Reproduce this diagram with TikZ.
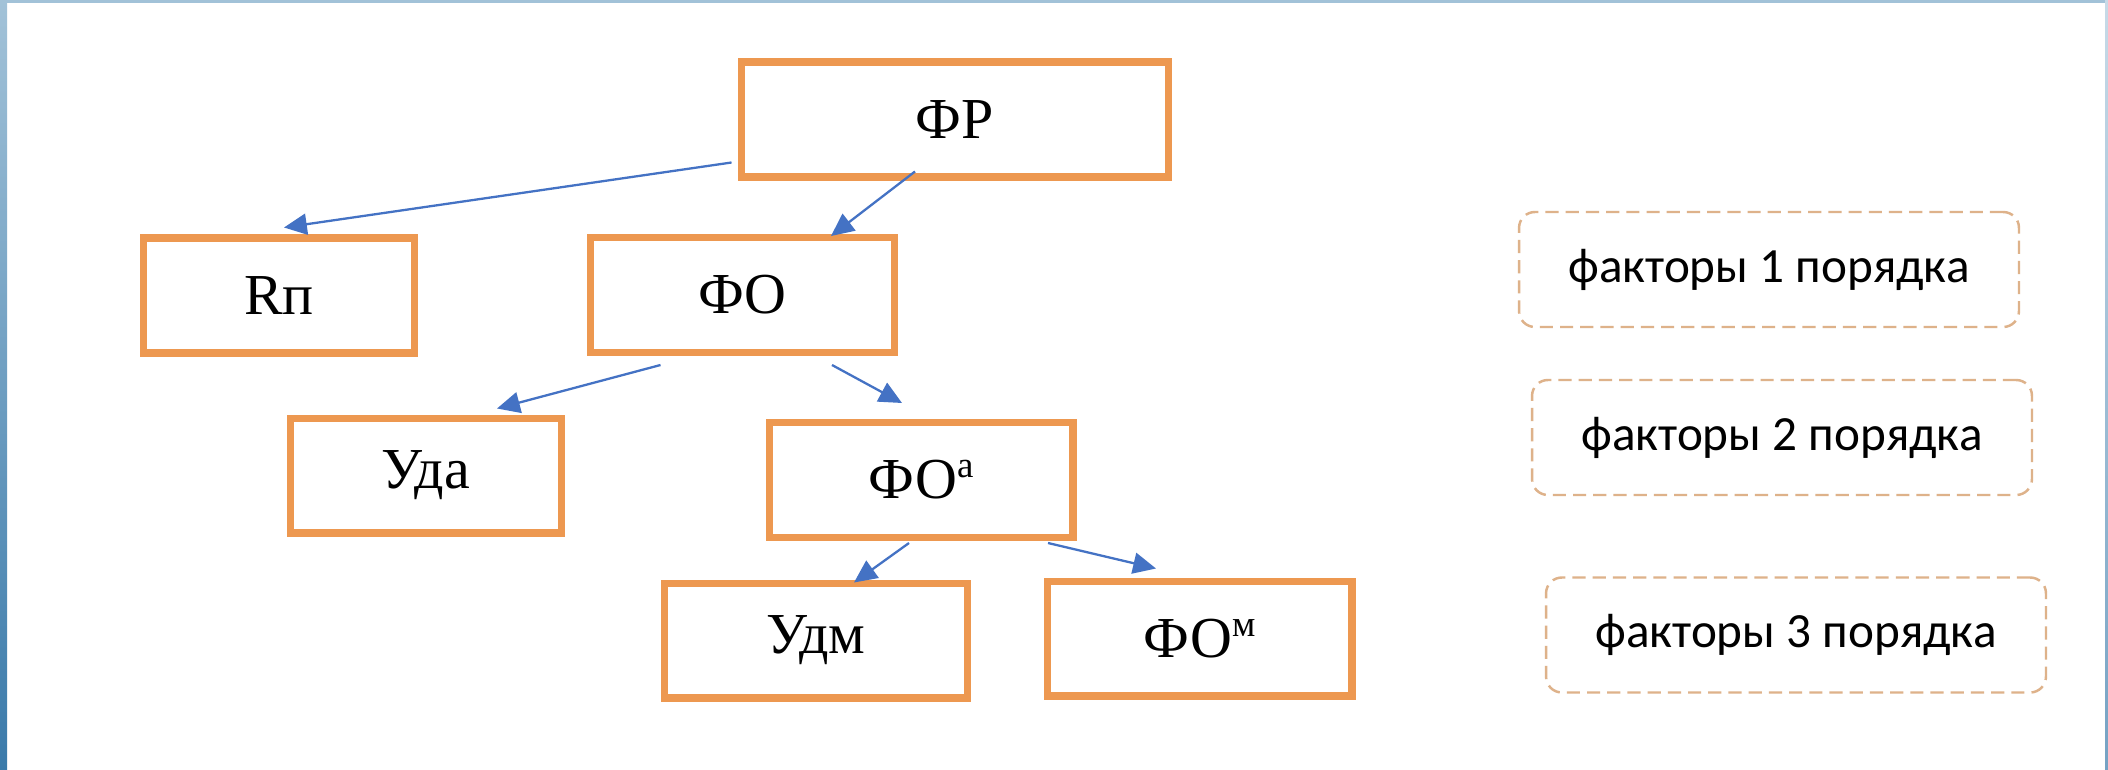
\documentclass[tikz,border=0pt]{standalone}
\usepackage{fontspec}
\setmainfont{Liberation Serif}
\newfontfamily\legendfont{Carlito}
\usetikzlibrary{arrows.meta,calc}
\definecolor{boxorange}{RGB}{237,152,80}
\definecolor{arrowblue}{RGB}{68,114,196}
\definecolor{dashcol}{RGB}{222,178,138}
\definecolor{stripA}{RGB}{162,194,216}
\definecolor{stripB}{RGB}{58,122,170}
\newcommand{\supsm}[1]{\raisebox{12pt}{\fontsize{21}{21}\selectfont #1}}
\begin{document}
\begin{tikzpicture}[x=0.02cm,y=-0.02cm,
  fbox/.style={draw=boxorange, line width=4pt, rectangle, minimum height=2.3cm,
    inner sep=0pt, font=\fontsize{33}{36}\selectfont},
  legend/.style={draw=dashcol, line width=1.4pt, dash pattern=on 7.5pt off 4pt,
    rounded corners=9pt, minimum width=10cm, minimum height=2.3cm, inner sep=0pt,
    font=\legendfont\fontsize{28}{30}\selectfont},
  arr/.style={draw=arrowblue, line width=1.3pt, -{Triangle[length=13pt,width=12pt]}}]
\useasboundingbox (0,0) rectangle (2108,770);
\fill[white] (0,0) rectangle (2108,770);
\shade[top color=stripA, bottom color=stripB] (0,0) rectangle (7,770);
\fill[stripA] (0,0) rectangle (2108,3);
\shade[top color=stripA!60, bottom color=stripB!70] (2105,0) rectangle (2108,770);

\node[fbox, minimum width=8.56cm] (fr) at (955,119.5) {ФР};
\node[fbox, minimum width=5.44cm] (rp) at (279,295.5) {Rп};
\node[fbox, minimum width=6.1cm] (fo) at (742.5,295) {ФО};
\node[fbox, minimum width=5.44cm] (uda) at (426,475.5) {Уда};
\node[fbox, minimum width=6.08cm] (foa) at (921,480) {ФО\supsm{а}};
\node[fbox, minimum width=6.08cm] (udm) at (816,640.5) {Удм};
\node[fbox, minimum width=6.1cm] (fom) at (1199.5,638.5) {ФО\supsm{м}};

\node[legend] (f1) at (1769,269.5) {факторы 1 порядка};
\node[legend] (f2) at (1782,437.5) {факторы 2 порядка};
\node[legend] (f3) at (1796,635) {факторы 3 порядка};

\draw[arr] ($(fr.south west)+(-6,-18)$) -- ($(rp.north)+(5,-7)$);
\draw[arr] ($(fr.south)+(-40,-9)$) -- ($(fo.north)+(88.5,2)$);
\draw[arr] ($(fo.south)+(-82,9)$) -- ($(uda.north)+(71,-6)$);
\draw[arr] ($(fo.south)+(89.5,9)$) -- ($(foa.north)+(-19,-16)$);
\draw[arr] ($(foa.south)+(-12,2)$) -- ($(udm.north)+(38,3)$);
\draw[arr] ($(foa.south)+(127,2)$) -- ($(fom.north)+(-43.5,-9)$);
\end{tikzpicture}
\end{document}
